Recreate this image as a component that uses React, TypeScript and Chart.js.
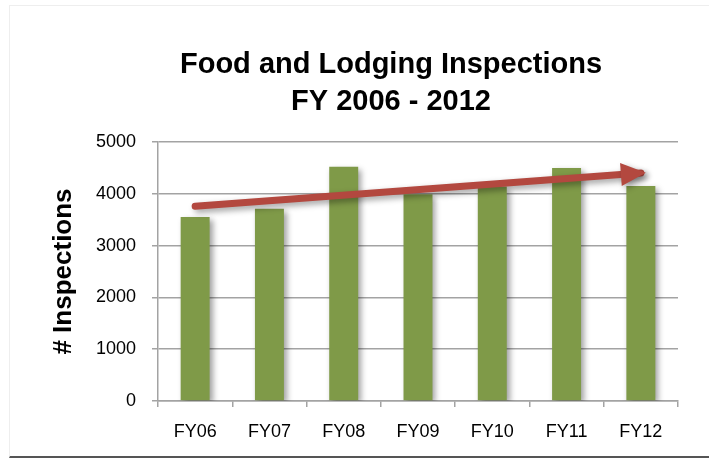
import React, { useEffect, useRef } from "react";
import { Chart, registerables } from "chart.js";

Chart.register(...registerables);

const categories = ["FY06", "FY07", "FY08", "FY09", "FY10", "FY11", "FY12"];
const inspections = [3550, 3710, 4520, 3990, 4140, 4500, 4150];
const trendValues = [3760, null, null, null, null, null, 4400];
const titleLines = ["Food and Lodging Inspections", "FY 2006 - 2012"];
const yAxisTitle = "# Inspections";
const yTicks = [0, 1000, 2000, 3000, 4000, 5000];

const FONT = "'Liberation Sans', Arial, sans-serif";
const GREEN = "#7f9a48";
const RED = "#b3483f";
const GRID = "#a3a3a3";

const shadowPlugin = {
  id: "shadowPlugin",
  beforeDatasetsDraw(chart: any) {
    const ctx = chart.ctx;
    ctx.save();
    ctx.shadowColor = "rgba(0,0,0,0.38)";
    ctx.shadowBlur = 6;
    ctx.shadowOffsetX = 3;
    ctx.shadowOffsetY = 3;
  },
  afterDatasetsDraw(chart: any) {
    const ctx = chart.ctx;
    const meta = chart.getDatasetMeta(0);
    const pts = meta.data.filter((p: any) => !p.skip && p.y != null && !isNaN(p.y));
    if (pts.length >= 2) {
      const a = pts[0];
      const b = pts[pts.length - 1];
      const dx = b.x - a.x;
      const dy = b.y - a.y;
      const len = Math.hypot(dx, dy);
      const ux = dx / len;
      const uy = dy / len;
      const tipX = b.x + ux * 5;
      const tipY = b.y + uy * 5;
      const baseX = tipX - ux * 25;
      const baseY = tipY - uy * 25;
      const hw = 11.5;
      ctx.beginPath();
      ctx.moveTo(tipX, tipY);
      ctx.lineTo(baseX - uy * hw, baseY + ux * hw);
      ctx.lineTo(baseX + uy * hw, baseY - ux * hw);
      ctx.closePath();
      ctx.fillStyle = RED;
      ctx.fill();
    }
    ctx.restore();
  },
};

const titlePlugin = {
  id: "customTitle",
  afterDraw(chart: any) {
    const ctx = chart.ctx;
    ctx.save();
    ctx.fillStyle = "#000";
    ctx.font = `bold 29px ${FONT}`;
    ctx.textAlign = "center";
    ctx.textBaseline = "alphabetic";
    const cx = chart.width * 0.5515;
    ctx.fillText(titleLines[0], cx, 73);
    ctx.fillText(titleLines[1], cx, 110);
    ctx.restore();
  },
};

export default function App() {
  const ref = useRef<HTMLCanvasElement | null>(null);
  useEffect(() => {
    if (!ref.current) return;
    const chart = new Chart(ref.current, {
      type: "bar",
      data: {
        labels: categories,
        datasets: [
          {
            type: "line",
            label: "Trend",
            data: trendValues as any,
            spanGaps: true,
            borderColor: RED,
            borderWidth: 7,
            borderCapStyle: "round",
            pointRadius: 0,
            order: 0,
          } as any,
          {
            type: "bar",
            label: "Inspections",
            data: inspections,
            backgroundColor: GREEN,
            categoryPercentage: 1,
            barPercentage: 0.39,
            order: 1,
          },
        ],
      },
      options: {
        animation: false,
        responsive: true,
        maintainAspectRatio: false,
        layout: { padding: { top: 142, right: 31, bottom: 13, left: 48 } },
        plugins: {
          legend: { display: false },
          tooltip: { enabled: false },
          title: { display: false },
        },
        scales: {
          x: {
            offset: true,
            grid: {
              offset: true,
              drawOnChartArea: false,
              drawTicks: true,
              tickLength: 6,
              color: GRID,
              lineWidth: 1.5,
            },
            border: { color: GRID, width: 1.5 },
            ticks: {
              color: "#000",
              font: { family: FONT, size: 18 },
              padding: 14,
            },
            afterFit(scale: any) {
              scale.height = 47;
            },
          },
          y: {
            min: 0,
            max: 5000,
            afterBuildTicks(scale: any) {
              scale.ticks = yTicks.map((v) => ({ value: v }));
            },
            afterFit(scale: any) {
              scale.width = 110;
            },
            grid: {
              color: GRID,
              lineWidth: 1.5,
              tickLength: 6,
            },
            border: { color: GRID, width: 1.5 },
            ticks: {
              color: "#000",
              font: { family: FONT, size: 18 },
              padding: 16,
              callback: (v: any) => String(v),
            },
            title: {
              display: true,
              text: yAxisTitle,
              color: "#000",
              font: { family: FONT, size: 26, weight: "bold" },
              padding: { top: 0, bottom: 2 },
            },
          },
        },
      },
      plugins: [shadowPlugin, titlePlugin],
    });
    return () => chart.destroy();
  }, []);

  return (
    <div
      style={{
        position: "fixed",
        left: 0,
        top: 0,
        width: 709,
        height: 461,
        background: "#fff",
        overflow: "hidden",
      }}
    >
      <div
        style={{
          position: "absolute",
          left: 9,
          top: 5,
          width: 720,
          height: 453,
          borderTop: "1px solid #eeeeee",
          borderLeft: "1px solid #eeeeee",
          borderBottom: "2px solid #555555",
          boxSizing: "border-box",
        }}
      />
      <div style={{ position: "absolute", left: 0, top: 0, width: 709, height: 461 }}>
        <canvas ref={ref} />
      </div>
    </div>
  );
}
